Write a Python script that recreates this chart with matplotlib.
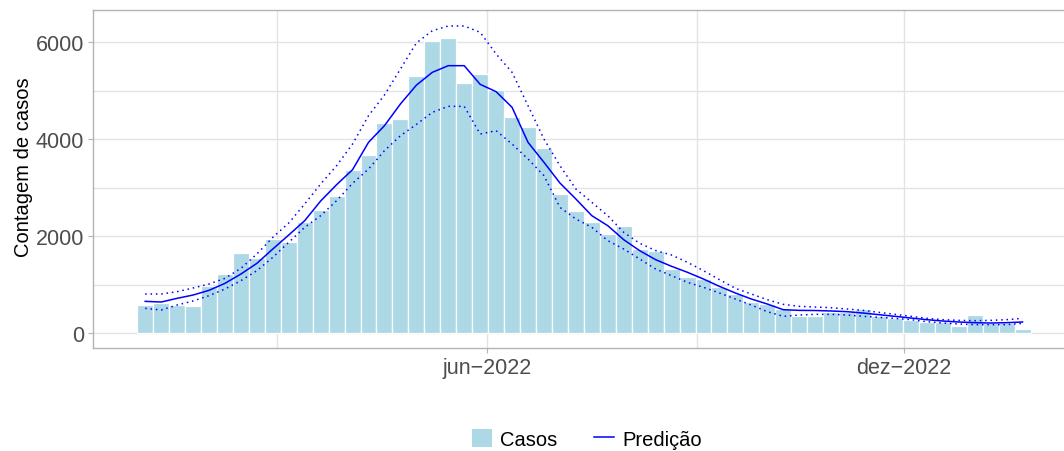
import pandas as pd
import numpy as np
import matplotlib
matplotlib.use('Agg')
import matplotlib.pyplot as plt
import matplotlib.dates as mdates
from matplotlib.patches import Patch
from matplotlib.lines import Line2D

plt.rcParams['font.family'] = ['Liberation Sans', 'DejaVu Sans']

####################################################
# Weekly data
first_week = '2022-01-02'
n_weeks = 56

casos = [577, 619, 584, 557, 975, 1216, 1649, 1546, 1938, 1876,
         2289, 2536, 2825, 3361, 3670, 4330, 4419, 5299, 6021, 6082,
         5155, 5340, 5010, 4454, 4247, 3814, 2866, 2515, 2289, 2041,
         2206, 1732, 1691, 1320, 1150, 1113, 955, 804, 646, 598,
         495, 357, 357, 426, 426, 495, 357, 316, 275, 220,
         220, 151, 371, 206, 206, 89]

predicao = [653, 639, 715, 783, 880, 1024, 1216, 1436, 1732, 2021,
            2316, 2722, 3058, 3368, 3931, 4275, 4722, 5110, 5375, 5512,
            5512, 5127, 4976, 4653, 3931, 3519, 3093, 2763, 2419, 2213,
            1924, 1698, 1512, 1375, 1251, 1113, 962, 825, 701, 598,
            481, 467, 464, 454, 440, 412, 378, 344, 309, 275,
            247, 227, 213, 206, 213, 227]

limite_sup = [804, 804, 852, 928, 1010, 1127, 1333, 1629, 1972, 2268,
              2660, 3072, 3450, 3897, 4481, 4907, 5443, 5980, 6233, 6330,
              6330, 6200, 5753, 5375, 4687, 4000, 3450, 2969, 2694, 2419,
              2076, 1850, 1700, 1608, 1457, 1285, 1100, 921, 804, 687,
              591, 550, 536, 522, 495, 467, 426, 385, 344, 302,
              275, 261, 254, 261, 275, 302]

limite_inf = [509, 474, 577, 660, 770, 907, 1079, 1285, 1560, 1870,
              2179, 2419, 2728, 3086, 3381, 3759, 4068, 4300, 4550, 4674,
              4674, 4103, 4172, 3897, 3588, 3244, 2591, 2351, 2179, 1904,
              1732, 1526, 1320, 1182, 1045, 942, 825, 701, 577, 440,
              344, 371, 385, 385, 371, 344, 323, 302, 275, 233,
              206, 186, 172, 172, 172, 199]

semanas = pd.date_range(first_week, periods=n_weeks, freq='7D')
####################################################

fig = plt.figure(figsize=(10.64, 4.52), dpi=100)
ax = fig.add_axes([93/1064, (452-349)/452, (1064-93)/1064, (349-11)/452])

# Bars
ax.bar(semanas, casos, width=7, color='#ADD8E6', edgecolor='white', linewidth=0.9, zorder=2)

# Prediction and interval
ax.plot(semanas, predicao, color='blue', linewidth=1.1, zorder=3)
ax.plot(semanas, limite_sup, color='blue', linewidth=1.1, linestyle=(0, (1, 2.5)), zorder=3)
ax.plot(semanas, limite_inf, color='blue', linewidth=1.1, linestyle=(0, (1, 2.5)), zorder=3)

# Axis limits
jun1 = pd.Timestamp('2022-06-01')
ax.set_xlim(jun1 - pd.Timedelta(days=172.9), jun1 + pd.Timedelta(days=253.2))
ax.set_ylim(-309, 6660)

# Ticks
ax.set_xticks([pd.Timestamp('2022-06-01'), pd.Timestamp('2022-12-01')])
ax.set_xticklabels(['jun\u22122022', 'dez\u22122022'])
ax.set_xticks([pd.Timestamp('2022-03-01'), pd.Timestamp('2022-09-01')], minor=True)
ax.set_yticks([0, 2000, 4000, 6000])
ax.set_yticks([1000, 3000, 5000], minor=True)

ax.tick_params(axis='both', which='major', labelsize=15.5, labelcolor='#4D4D4D',
               color='#B3B3B3', length=3.5, width=0.8, pad=3)
ax.tick_params(axis='both', which='minor', length=0)

ax.grid(True, which='both', color='#E3E3E3', linewidth=1.0, zorder=0)
ax.set_axisbelow(True)

for side in ['left', 'bottom', 'top']:
    ax.spines[side].set_color('#B3B3B3')
    ax.spines[side].set_linewidth(1.0)
ax.spines['right'].set_visible(False)

ax.set_ylabel('Contagem de casos', fontsize=14.5, color='black')
ax.yaxis.set_label_coords((33 - 93) / 971, (349 - 167) / 338)

# Legend below the plot
handles = [Patch(facecolor='#ADD8E6', edgecolor='none'),
           Line2D([0], [0], color='blue', linewidth=1.1)]
fig.legend(handles, ['Casos', 'Predição'], loc='center', bbox_to_anchor=(587/1064, 1 - 440/452),
           ncol=2, frameon=False, fontsize=14.5, handlelength=1.0, handleheight=1.0,
           handletextpad=0.4, columnspacing=1.8)

fig.savefig('out.png', dpi=100)
